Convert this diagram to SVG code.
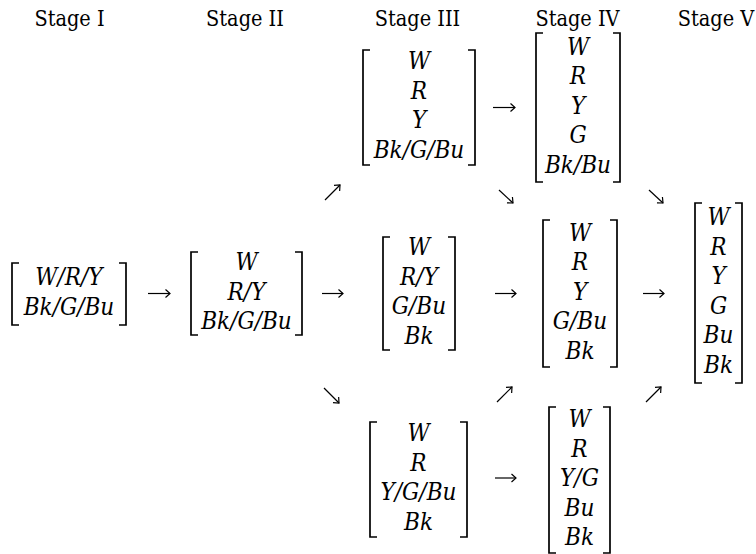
<svg xmlns="http://www.w3.org/2000/svg" width="756" height="554" viewBox="0 0 756 554">
<style>
.lbl{font-family:"DejaVu Serif Condensed","Liberation Serif",serif;font-size:21.5px;fill:#000;text-anchor:middle}
.m{font-family:"DejaVu Serif Condensed","DejaVu Serif",serif;font-style:italic;font-size:24px;fill:#000;text-anchor:middle}
.br{fill:none;stroke:#000;stroke-width:1.7}
.ar{fill:none;stroke:#000;stroke-width:1.2}
</style>
<defs>
<marker id="ah" markerUnits="userSpaceOnUse" markerWidth="10" markerHeight="10" viewBox="-6 -5 8 10" refX="0" refY="0" orient="auto">
<path d="M-4.5,-4 L0,0 L-4.5,4" fill="none" stroke="#000" stroke-width="1.2"/>
</marker>
</defs>
<g id="labels">
<text class="lbl" x="69.5" y="26">Stage I</text>
<text class="lbl" x="245" y="26">Stage II</text>
<text class="lbl" x="417.5" y="26">Stage III</text>
<text class="lbl" x="577.5" y="26">Stage IV</text>
<text class="lbl" x="716" y="26">Stage V</text>
</g>
<g id="m1">
<path class="br" d="M19,263 H12 V325 H19 M119,263 H126 V325 H119"/>
<text class="m" x="69" y="285">W/R/Y</text>
<text class="m" x="69" y="314.5">Bk/G/Bu</text>
</g>
<g id="m2">
<path class="br" d="M198,252 H191 V335 H198 M295,252 H302 V335 H295"/>
<text class="m" x="246.5" y="270">W</text>
<text class="m" x="246.5" y="299.5">R/Y</text>
<text class="m" x="246.5" y="329">Bk/G/Bu</text>
</g>
<g id="m3a">
<path class="br" d="M370,50 H363 V165 H370 M468,50 H475 V165 H468"/>
<text class="m" x="419" y="69.25">W</text>
<text class="m" x="419" y="98.75">R</text>
<text class="m" x="419" y="128.25">Y</text>
<text class="m" x="419" y="157.75">Bk/G/Bu</text>
</g>
<g id="m3b">
<path class="br" d="M390,237 H383 V350 H390 M448,237 H455 V350 H448"/>
<text class="m" x="419" y="255.25">W</text>
<text class="m" x="419" y="284.75">R/Y</text>
<text class="m" x="419" y="314.25">G/Bu</text>
<text class="m" x="419" y="343.75">Bk</text>
</g>
<g id="m3c">
<path class="br" d="M377,422 H370 V537 H377 M460,422 H467 V537 H460"/>
<text class="m" x="418.5" y="441.25">W</text>
<text class="m" x="418.5" y="470.75">R</text>
<text class="m" x="418.5" y="500.25">Y/G/Bu</text>
<text class="m" x="418.5" y="529.75">Bk</text>
</g>
<g id="m4a">
<path class="br" d="M543,33 H536 V182 H543 M613,33 H620 V182 H613"/>
<text class="m" x="578" y="54.5">W</text>
<text class="m" x="578" y="84">R</text>
<text class="m" x="578" y="113.5">Y</text>
<text class="m" x="578" y="143">G</text>
<text class="m" x="578" y="172.5">Bk/Bu</text>
</g>
<g id="m4b">
<path class="br" d="M550,220 H543 V367 H550 M610,220 H617 V367 H610"/>
<text class="m" x="580" y="240.5">W</text>
<text class="m" x="580" y="270">R</text>
<text class="m" x="580" y="299.5">Y</text>
<text class="m" x="580" y="329">G/Bu</text>
<text class="m" x="580" y="358.5">Bk</text>
</g>
<g id="m4c">
<path class="br" d="M556,407 H549 V553 H556 M603,407 H610 V553 H603"/>
<text class="m" x="579.5" y="427">W</text>
<text class="m" x="579.5" y="456.5">R</text>
<text class="m" x="579.5" y="486">Y/G</text>
<text class="m" x="579.5" y="515.5">Bu</text>
<text class="m" x="579.5" y="545">Bk</text>
</g>
<g id="m5">
<path class="br" d="M702,203 H695 V383 H702 M735,203 H742 V383 H735"/>
<text class="m" x="718.5" y="225.25">W</text>
<text class="m" x="718.5" y="254.75">R</text>
<text class="m" x="718.5" y="284.25">Y</text>
<text class="m" x="718.5" y="313.75">G</text>
<text class="m" x="718.5" y="343.25">Bu</text>
<text class="m" x="718.5" y="372.75">Bk</text>
</g>
<g id="connectors">
<path class="ar" marker-end="url(#ah)" d="M148,293.5 H170"/>
<path class="ar" marker-end="url(#ah)" d="M322,293.5 H343"/>
<path class="ar" marker-end="url(#ah)" d="M495,293.5 H516"/>
<path class="ar" marker-end="url(#ah)" d="M643,293.5 H664"/>
<path class="ar" marker-end="url(#ah)" d="M493,107.5 H515"/>
<path class="ar" marker-end="url(#ah)" d="M495,478 H516"/>
<path class="ar" marker-end="url(#ah)" d="M325,200 L340,185"/>
<path class="ar" marker-end="url(#ah)" d="M324,388 L339,403"/>
<path class="ar" marker-end="url(#ah)" d="M499,190 L513,203"/>
<path class="ar" marker-end="url(#ah)" d="M649,190 L663,203"/>
<path class="ar" marker-end="url(#ah)" d="M497,402 L512,387"/>
<path class="ar" marker-end="url(#ah)" d="M646,402 L661,387"/>
</g>
</svg>
